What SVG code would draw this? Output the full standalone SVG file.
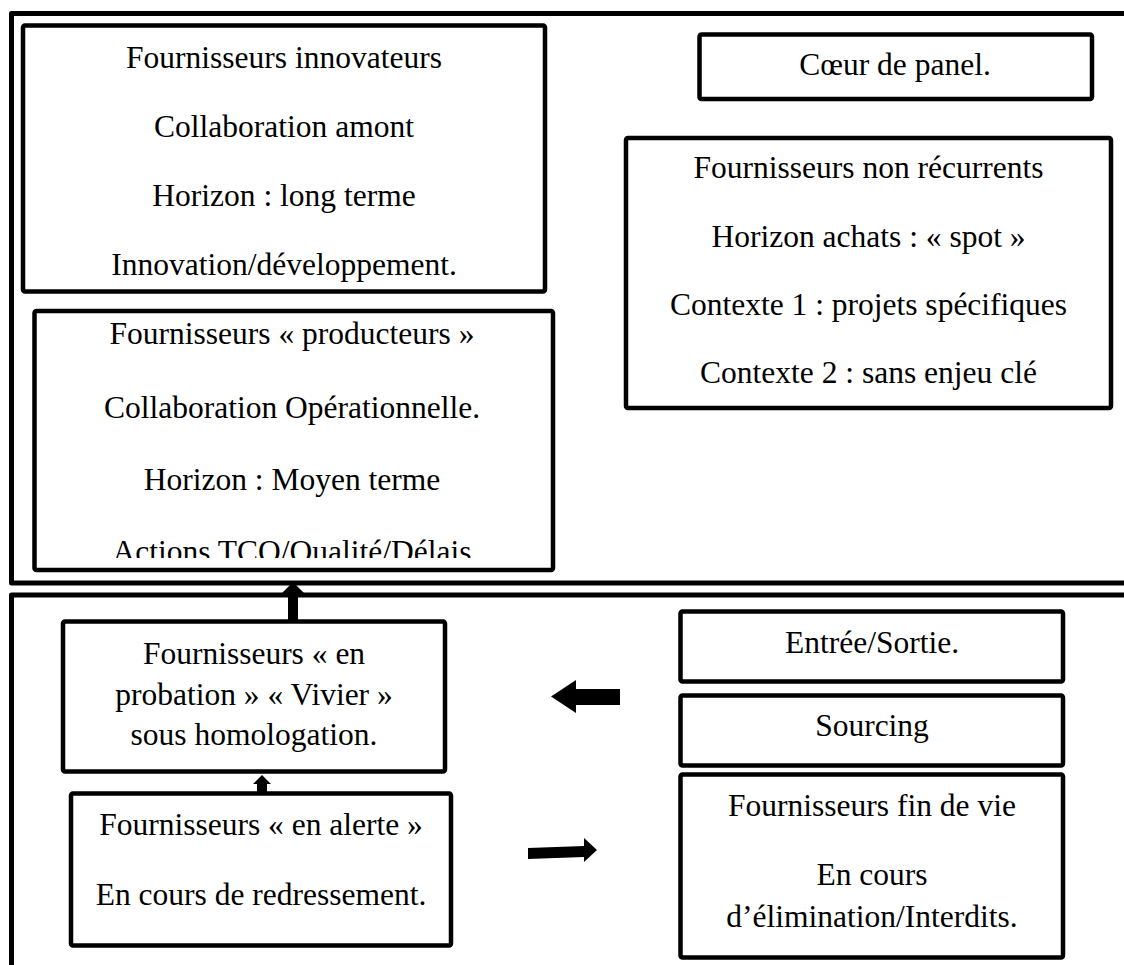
<svg xmlns="http://www.w3.org/2000/svg" width="1124" height="965" viewBox="0 0 1124 965">
<style>
.frame{fill:none;stroke:#000;stroke-width:5;stroke-linejoin:round}
.box{fill:#fff;stroke:#000;stroke-width:4.5;stroke-linejoin:round}
.t{font-family:"Liberation Serif","Times New Roman",serif;font-size:31.5px;text-anchor:middle;fill:#000}
.arrow{fill:#000;stroke:none}
</style>
<defs>
<clipPath id="clipProd"><rect x="32" y="311" width="521" height="247"/></clipPath>
</defs>
<rect width="1124" height="965" fill="#fff"/>
<g id="frames">
<path class="frame" d="M1130 13.5 H11.5 V583 H1130"/>
<path class="frame" d="M11.5 975 V595 H1130"/>
</g>
<g id="innovateurs">
<rect class="box" x="23" y="25.5" width="522" height="266" rx="2"/>
<text class="t" x="284" y="68">Fournisseurs innovateurs</text>
<text class="t" x="284" y="137">Collaboration amont</text>
<text class="t" x="284" y="206">Horizon : long terme</text>
<text class="t" x="284" y="275">Innovation/développement.</text>
</g>
<g id="producteurs">
<rect class="box" x="34.5" y="311" width="518.5" height="259" rx="2"/>
<g clip-path="url(#clipProd)">
<text class="t" x="292" y="344">Fournisseurs « producteurs »</text>
<text class="t" x="292" y="418">Collaboration Opérationnelle.</text>
<text class="t" x="292" y="490">Horizon : Moyen terme</text>
<text class="t" x="292" y="562">Actions TCO/Qualité/Délais</text>
</g>
</g>
<g id="coeur">
<rect class="box" x="699.5" y="34.5" width="392.5" height="64.5" rx="2"/>
<text class="t" x="895" y="75">Cœur de panel.</text>
</g>
<g id="nonrecurrents">
<rect class="box" x="626" y="138" width="485" height="270" rx="2"/>
<text class="t" x="868.5" y="178">Fournisseurs non récurrents</text>
<text class="t" x="868.5" y="247">Horizon achats : « spot »</text>
<text class="t" x="868.5" y="315">Contexte 1 : projets spécifiques</text>
<text class="t" x="868.5" y="383">Contexte 2 : sans enjeu clé</text>
</g>
<g id="probation">
<rect class="box" x="63" y="621.5" width="382" height="150" rx="2"/>
<text class="t" x="254" y="664">Fournisseurs « en</text>
<text class="t" x="254" y="705">probation » « Vivier »</text>
<text class="t" x="254" y="745">sous homologation.</text>
</g>
<g id="alerte">
<rect class="box" x="71" y="793.5" width="380" height="152" rx="2"/>
<text class="t" x="261" y="835">Fournisseurs « en alerte »</text>
<text class="t" x="261" y="905">En cours de redressement.</text>
</g>
<g id="entree">
<rect class="box" x="680.5" y="611.5" width="382.5" height="70" rx="2"/>
<text class="t" x="872" y="653">Entrée/Sortie.</text>
</g>
<g id="sourcing">
<rect class="box" x="680.5" y="695.5" width="382.5" height="70" rx="2"/>
<text class="t" x="872" y="736">Sourcing</text>
</g>
<g id="findevie">
<rect class="box" x="680.5" y="774.5" width="382.5" height="183" rx="2"/>
<text class="t" x="872" y="816">Fournisseurs fin de vie</text>
<text class="t" x="872" y="885">En cours</text>
<text class="t" x="872" y="927">d’élimination/Interdits.</text>
</g>
<g id="connectors">
<polygon class="arrow" points="288,621 288,594 281,594 293,582 305,594 298,594 298,621"/>
<polygon class="arrow" points="257,792 257,784 253,784 262,775 271,784 267,784 267,792"/>
<polygon class="arrow" points="620,689 576,689 576,680 551,696.5 576,713 576,705 620,705"/>
<polygon class="arrow" points="528,848 584,846 584,838 597,850 584,862 584,857 528,859"/>
</g>
</svg>
